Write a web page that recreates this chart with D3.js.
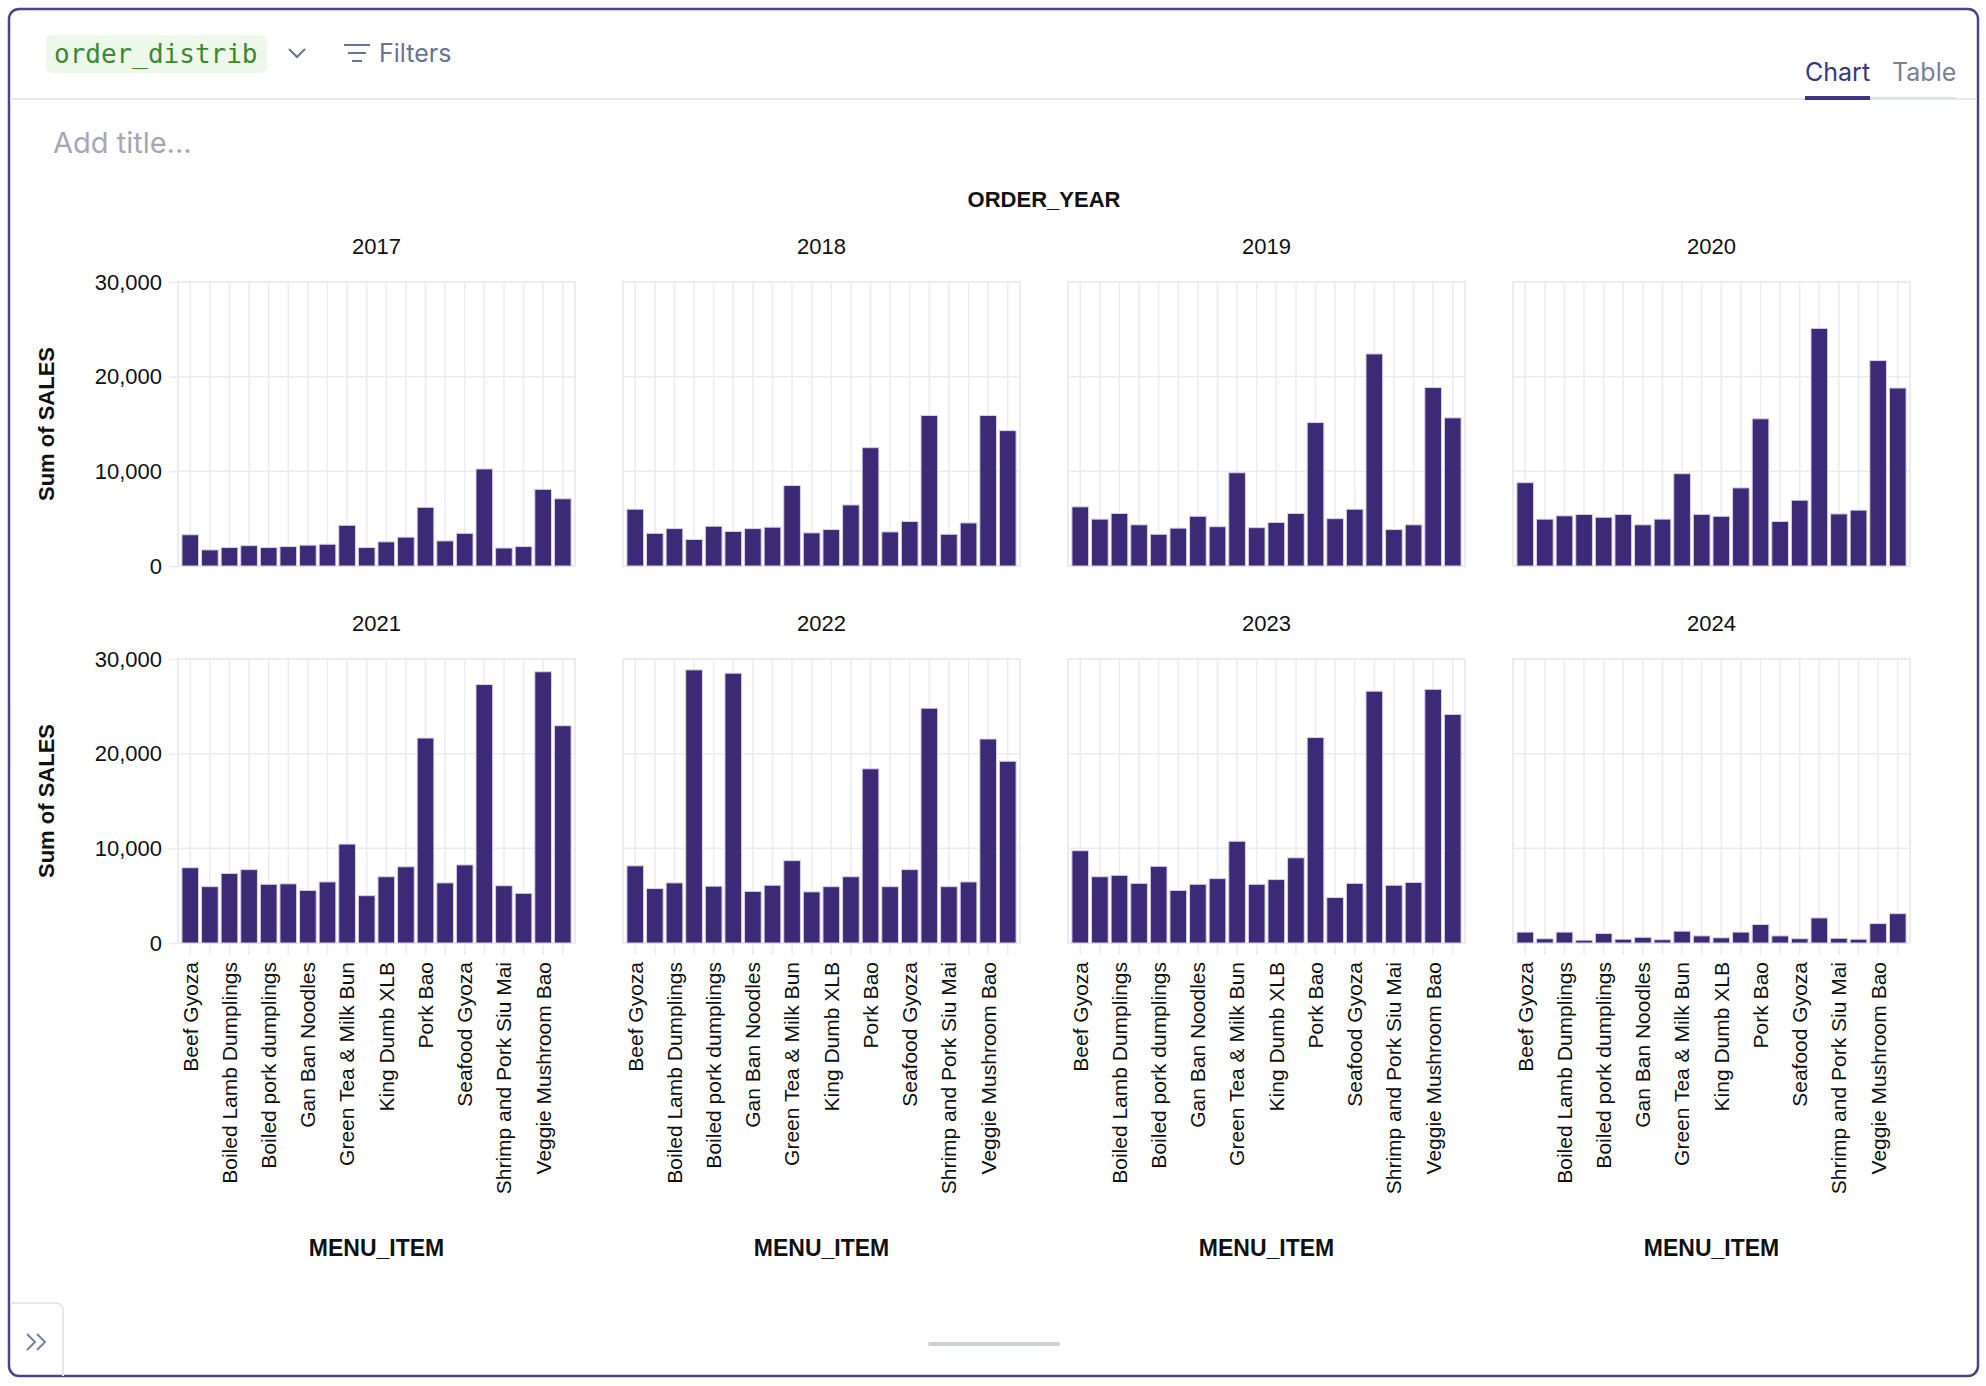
<!DOCTYPE html>
<html>
<head>
<meta charset="utf-8">
<script src="https://cdn.jsdelivr.net/npm/d3@7"></script>
<style>
  body { margin: 0; background: #fff; }
  svg { display: block; }
</style>
</head>
<body>
<script>
// menu items (only every other one gets a visible tick label)
const categories = [
  'Beef Gyoza', 'Beef Shumai', 'Boiled Lamb Dumplings', 'Boiled Mushroom Dumplings',
  'Boiled pork dumplings', 'Chicken Gyoza', 'Gan Ban Noodles', 'Garlic Green Beans',
  'Green Tea & Milk Bun', 'Hot and Sour Soup', 'King Dumb XLB', 'Pan Fried Pork Buns',
  'Pork Bao', 'Pork Gyoza', 'Seafood Gyoza', 'Shanghai Soup Dumplings',
  'Shrimp and Pork Siu Mai', 'Spicy Wontons', 'Veggie Mushroom Bao', 'Wonton Soup'
];

const years = [2017, 2018, 2019, 2020, 2021, 2022, 2023, 2024];

// sum of SALES per menu item, one array per year
const sales2017 = [3300, 1700, 1950, 2150, 1950, 2050, 2200, 2300, 4300, 1950, 2550, 3050, 6200, 2650, 3450, 10250, 1900, 2050, 8100, 7100];
const sales2018 = [6000, 3450, 3950, 2800, 4200, 3650, 3950, 4100, 8500, 3500, 3850, 6450, 12500, 3600, 4700, 15900, 3350, 4550, 15900, 14300];
const sales2019 = [6250, 4950, 5550, 4350, 3350, 4000, 5250, 4150, 9850, 4050, 4600, 5550, 15150, 5000, 6000, 22400, 3850, 4350, 18850, 15650];
const sales2020 = [8800, 4950, 5300, 5450, 5150, 5450, 4350, 4950, 9750, 5450, 5250, 8250, 15550, 4700, 6950, 25100, 5500, 5900, 21700, 18800];
const sales2021 = [7950, 5950, 7350, 7750, 6200, 6250, 5550, 6450, 10450, 5000, 7000, 8050, 21650, 6350, 8250, 27300, 6050, 5250, 28650, 22950];
const sales2022 = [8150, 5750, 6350, 28850, 6000, 28500, 5450, 6100, 8700, 5400, 5950, 7000, 18400, 5950, 7750, 24800, 5950, 6450, 21550, 19200];
const sales2023 = [9750, 7000, 7150, 6300, 8100, 5550, 6200, 6800, 10750, 6200, 6700, 9000, 21700, 4800, 6300, 26600, 6100, 6400, 26800, 24150];
const sales2024 = [1150, 450, 1150, 300, 1000, 400, 600, 350, 1250, 750, 550, 1150, 1950, 750, 450, 2650, 500, 400, 2050, 3100];

const yTicks = [0, 10000, 20000, 30000];

const salesByYear = [sales2017, sales2018, sales2019, sales2020, sales2021, sales2022, sales2023, sales2024];

const W = 1986, H = 1386;
const chartFont = '"Liberation Sans", Arial, sans-serif';
const uiFont = 'Inter, "Noto Sans", sans-serif';
const gridColor = '#ebebf2';
const barColor = '#3c2a76';
const muted = '#6b7394';

const svg = d3.select('body').append('svg').attr('width', W).attr('height', H);

// ---- app chrome ----
svg.append('rect').attr('x', 9).attr('y', 9).attr('width', 1969).attr('height', 1367)
  .attr('rx', 10).attr('fill', 'none').attr('stroke', '#4b4487').attr('stroke-width', 2.5);

svg.append('rect').attr('x', 46).attr('y', 35).attr('width', 221).attr('height', 38)
  .attr('rx', 6).attr('fill', '#eef8ea');
svg.append('text').attr('x', 54).attr('y', 63).text('order_distrib')
  .attr('font-family', '"DejaVu Sans Mono", monospace').attr('font-size', 26).attr('fill', '#3b8a2f');

svg.append('polyline').attr('points', '289,49 297,57 305,49')
  .attr('fill', 'none').attr('stroke', muted).attr('stroke-width', 2);

[[344, 370, 45], [348, 366, 53], [352, 362, 61]].forEach(function (l) {
  svg.append('line').attr('x1', l[0]).attr('x2', l[1]).attr('y1', l[2]).attr('y2', l[2])
    .attr('stroke', muted).attr('stroke-width', 2);
});
svg.append('text').attr('x', 379).attr('y', 62).text('Filters')
  .attr('font-family', uiFont).attr('font-size', 25).attr('fill', muted);

svg.append('line').attr('x1', 10).attr('x2', 1977).attr('y1', 99).attr('y2', 99)
  .attr('stroke', '#e6e7ec').attr('stroke-width', 2);
svg.append('line').attr('x1', 1870).attr('x2', 1956).attr('y1', 98).attr('y2', 98)
  .attr('stroke', '#dcdfe6').attr('stroke-width', 2);
svg.append('text').attr('x', 1805).attr('y', 81).text('Chart')
  .attr('font-family', uiFont).attr('font-size', 25).attr('fill', '#3d3580');
svg.append('rect').attr('x', 1805).attr('y', 96).attr('width', 65).attr('height', 4).attr('fill', '#3d3580');
svg.append('text').attr('x', 1892).attr('y', 81).text('Table')
  .attr('font-family', uiFont).attr('font-size', 25).attr('fill', '#7a8099');

svg.append('text').attr('x', 53).attr('y', 153).text('Add title...')
  .attr('font-family', uiFont).attr('font-size', 29).attr('fill', '#a3a8b8');

// bottom-left collapse box and scroll bar
svg.append('path').attr('d', 'M10,1303 H55 Q63,1303 63,1311 V1376')
  .attr('fill', 'none').attr('stroke', '#e6e7ec').attr('stroke-width', 2);
['27,1334 35,1342 27,1350', '37,1334 45,1342 37,1350'].forEach(function (p) {
  svg.append('polyline').attr('points', p).attr('fill', 'none')
    .attr('stroke', '#7a8099').attr('stroke-width', 2);
});
svg.append('line').attr('x1', 930).attr('x2', 1058).attr('y1', 1344).attr('y2', 1344)
  .attr('stroke', '#cfd1d8').attr('stroke-width', 4).attr('stroke-linecap', 'round');

// ---- facet chart ----
const colX0 = 178, colStep = 445, plotW = 397;
const rowY0 = 282, rowStep = 377, plotH = 284;

const x = d3.scaleBand().domain(categories).range([0, plotW]).paddingInner(0.15).paddingOuter(0.2);
const y = d3.scaleLinear().domain([0, 30000]).range([plotH, 0]);

svg.append('text').attr('x', 1044).attr('y', 207).attr('text-anchor', 'middle')
  .text('ORDER_YEAR').attr('font-family', chartFont).attr('font-weight', 'bold')
  .attr('font-size', 22).attr('fill', '#111');

years.forEach(function (year, i) {
  const col = i % 4, row = Math.floor(i / 4);
  const data = categories.map(function (c, k) { return { item: c, value: salesByYear[i][k] }; });
  const g = svg.append('g')
    .attr('transform', 'translate(' + (colX0 + col * colStep) + ',' + (rowY0 + row * rowStep) + ')');

  g.append('text').attr('x', plotW / 2).attr('y', -28).attr('text-anchor', 'middle')
    .text(year).attr('font-family', chartFont).attr('font-size', 22).attr('fill', '#111');

  // grid
  g.selectAll('.vgrid').data(categories).enter().append('line')
    .attr('x1', function (d) { return x(d) + x.bandwidth() / 2; })
    .attr('x2', function (d) { return x(d) + x.bandwidth() / 2; })
    .attr('y1', 0).attr('y2', plotH)
    .attr('stroke', gridColor).attr('stroke-width', 1.5);
  g.selectAll('.hgrid').data(yTicks).enter().append('line')
    .attr('x1', 0).attr('x2', plotW)
    .attr('y1', function (d) { return y(d); }).attr('y2', function (d) { return y(d); })
    .attr('stroke', gridColor).attr('stroke-width', 1.5);
  g.append('rect').attr('width', plotW).attr('height', plotH)
    .attr('fill', 'none').attr('stroke', gridColor).attr('stroke-width', 2);

  // bars
  g.selectAll('.bar').data(data).enter().append('rect')
    .attr('x', function (d) { return x(d.item); })
    .attr('y', function (d) { return y(d.value); })
    .attr('width', x.bandwidth())
    .attr('height', function (d) { return plotH - y(d.value); })
    .attr('fill', barColor).attr('stroke', '#d6d2e6').attr('stroke-width', 1);

  if (col === 0) {
    const ya = g.append('g')
      .call(d3.axisLeft(y).tickValues(yTicks).tickSize(9).tickPadding(7).tickFormat(d3.format(',')));
    ya.select('.domain').remove();
    ya.selectAll('line').attr('stroke', gridColor).attr('stroke-width', 1.5);
    ya.selectAll('text').attr('font-family', chartFont).attr('font-size', 22).attr('fill', '#111');

    svg.append('text')
      .attr('transform', 'translate(46,' + (rowY0 + row * rowStep + plotH / 2) + ') rotate(-90)')
      .attr('text-anchor', 'middle').attr('dy', '0.35em')
      .text('Sum of SALES').attr('font-family', chartFont).attr('font-weight', 'bold')
      .attr('font-size', 22).attr('fill', '#111');
  }

  if (row === 1) {
    const xa = g.append('g').attr('transform', 'translate(0,' + (plotH + 2) + ')')
      .call(d3.axisBottom(x).tickSize(10)
        .tickFormat(function (d, k) { return k % 2 === 0 ? d : ''; }));
    xa.select('.domain').remove();
    xa.selectAll('line').attr('stroke', gridColor).attr('stroke-width', 1.5);
    xa.selectAll('text')
      .attr('transform', 'rotate(-90)')
      .attr('x', -17).attr('y', 0).attr('dy', '0.35em')
      .attr('text-anchor', 'end')
      .attr('font-family', chartFont).attr('font-size', 21).attr('fill', '#111');

    g.append('text').attr('x', plotW / 2).attr('y', 1256 - (rowY0 + rowStep))
      .attr('text-anchor', 'middle').text('MENU_ITEM')
      .attr('font-family', chartFont).attr('font-weight', 'bold')
      .attr('font-size', 23).attr('fill', '#111');
  }
});
</script>
</body>
</html>
